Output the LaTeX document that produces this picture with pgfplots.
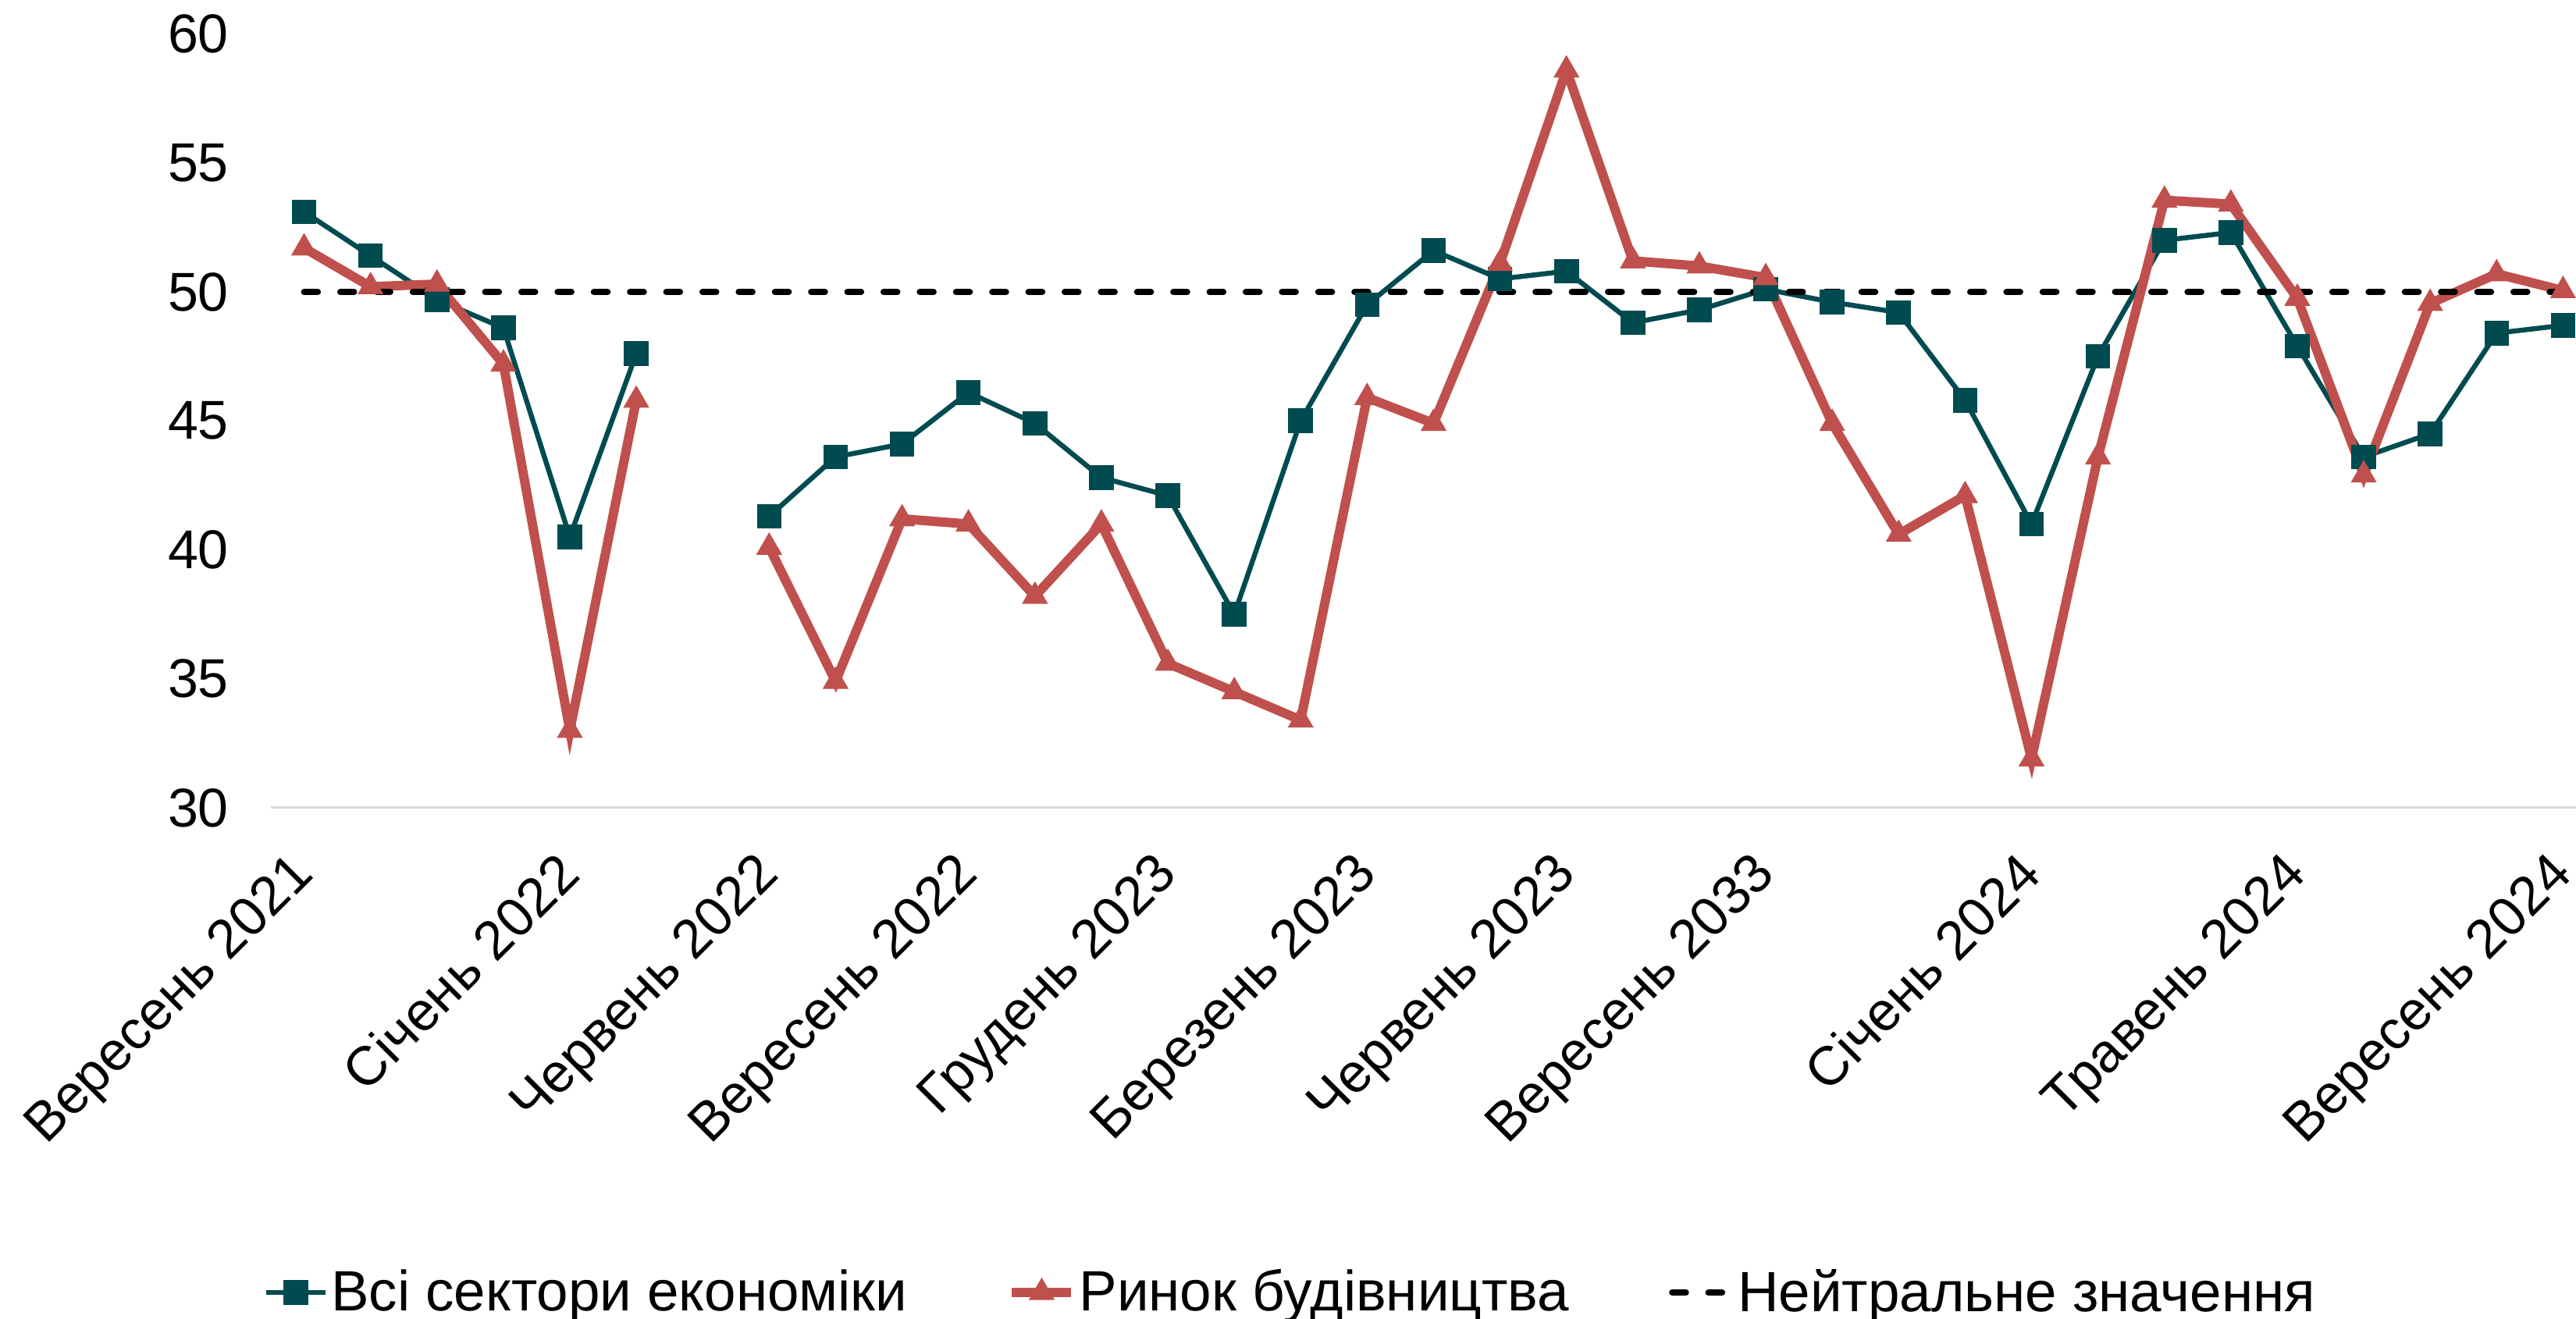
\documentclass[border=0pt]{standalone}
\usepackage{fontspec}
\setmainfont{Liberation Sans}
\usepackage{pgfplots}
\pgfplotsset{compat=1.18}
\definecolor{cgreen}{RGB}{0,75,80}
\definecolor{cred}{RGB}{192,80,77}
\definecolor{cgrid}{RGB}{217,217,217}
\begin{document}
\begin{tikzpicture}
\begin{axis}[
  name=ax, at={(0,0)}, anchor=south west,
  scale only axis, width=738.25pt, height=247.9pt,
  xmin=-0.5, xmax=34.195, ymin=30, ymax=60,
  clip=false,
  axis x line*=bottom, axis y line*=left,
  x axis line style={draw=cgrid, line width=0.75pt},
  y axis line style={draw=none},
  major tick length=0pt,
  xtick={0,4,7,10,13,16,19,22,26,30,34},
  xticklabels={Вересень 2021,Січень 2022,Червень 2022,Вересень 2022,Грудень 2023,Березень 2023,Червень 2023,Вересень 2033,Січень 2024,Травень 2024,Вересень 2024},
  ytick={30,35,...,60},
  tick label style={font=\fontsize{17.5}{20}\selectfont},
  /pgf/number format/assume math mode=true,
  yticklabel style={xshift=-10pt},
  xticklabel style={xshift=-5pt, yshift=-13pt, rotate=45, anchor=north east, inner sep=0pt},
  unbounded coords=jump,
  legend columns=3,
  legend style={draw=none, fill=none, at={(0.4426,-0.6263)}, anchor=center,
    font=\fontsize{18.2}{21}\selectfont,
    /tikz/every even column/.append style={column sep=31pt},
    nodes={inner xsep=1pt}},
  legend image code/.code={\draw[mark repeat=2,mark phase=2] plot coordinates {(0pt,0pt)(9.5pt,0pt)(19pt,0pt)};},
]
\addplot[cgreen, line width=1.6pt, mark=square*, mark size=3.8pt, mark options={solid, line width=0.3pt}] coordinates {
(0,53.1)(1,51.4)(2,49.7)(3,48.6)(4,40.5)(5,47.6)(6,nan)(7,41.3)(8,43.6)(9,44.1)
(10,46.1)(11,44.9)(12,42.8)(13,42.1)(14,37.5)(15,45.0)(16,49.5)(17,51.6)(18,50.5)(19,50.8)
(20,48.8)(21,49.3)(22,50.1)(23,49.6)(24,49.2)(25,45.8)(26,41.0)(27,47.5)(28,52.0)(29,52.3)
(30,47.9)(31,43.6)(32,44.5)(33,48.4)(34,48.7)};
\addlegendentry{Всі сектори економіки}
\addplot[cred, line width=3pt, mark=triangle*, mark size=4.5pt, mark options={solid, line width=0.3pt}] coordinates {
(0,51.7)(1,50.2)(2,50.3)(3,47.2)(4,33.0)(5,45.8)(6,nan)(7,40.1)(8,34.9)(9,41.2)
(10,41.0)(11,38.2)(12,41.0)(13,35.6)(14,34.5)(15,33.4)(16,45.9)(17,44.9)(18,51.1)(19,58.6)
(20,51.2)(21,51.0)(22,50.55)(23,44.9)(24,40.6)(25,42.1)(26,31.9)(27,43.6)(28,53.55)(29,53.4)
(30,49.75)(31,42.9)(32,49.55)(33,50.7)(34,50.05)};
\addlegendentry{Ринок будівництва}
\addplot[black, line width=2pt, dash pattern=on 4.4pt off 7.2pt, line cap=round] coordinates {(0,50)(34,50)};
\addlegendentry{Нейтральне значення}
\end{axis}
\pgfresetboundingbox
\path[use as bounding box] (-86.75pt,-163.75pt) rectangle (738.25pt,258.75pt);
\end{tikzpicture}
\end{document}
